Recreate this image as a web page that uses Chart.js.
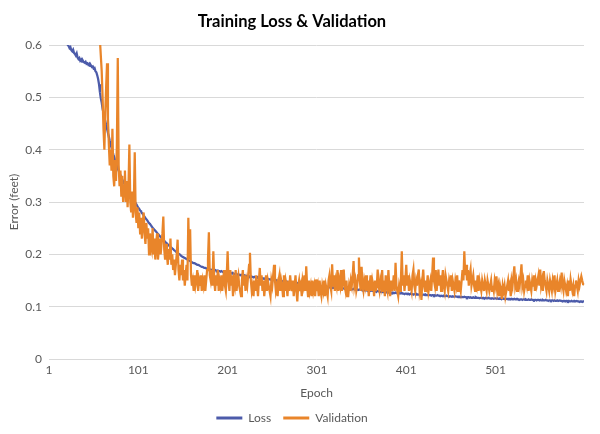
<!DOCTYPE html>
<html>
<head>
<meta charset="utf-8">
<script src="https://cdn.jsdelivr.net/npm/chart.js@4.4.0/dist/chart.umd.min.js"></script>
<style>
  body { margin: 0; background: #fff; }
</style>
</head>
<body>
<canvas id="bieu-do" width="600" height="434"></canvas>
<script>
// gia tri doc tu hinh, moi dong 10 epoch
var lossValues = [
	0.95, 0.93, 0.91, 0.89, 0.87, 0.85, 0.83, 0.81, 0.79, 0.77,
	0.75, 0.73, 0.715, 0.70, 0.685, 0.67, 0.655, 0.64, 0.628, 0.617,
	0.607, 0.600, 0.598, 0.594, 0.596, 0.590, 0.588, 0.591, 0.585, 0.583,
	0.580, 0.584, 0.576, 0.573, 0.575, 0.570, 0.572, 0.568, 0.570, 0.567,
	0.566, 0.568, 0.564, 0.565, 0.562, 0.564, 0.560, 0.561, 0.558, 0.559,
	0.555, 0.556, 0.550, 0.548, 0.542, 0.535, 0.525, 0.510, 0.498, 0.490,
	0.478, 0.470, 0.462, 0.455, 0.447, 0.440, 0.432, 0.425, 0.417, 0.410,
	0.404, 0.398, 0.391, 0.386, 0.380, 0.374, 0.369, 0.364, 0.360, 0.355,
	0.351, 0.347, 0.343, 0.339, 0.336, 0.333, 0.330, 0.327, 0.325, 0.322,
	0.319, 0.316, 0.313, 0.310, 0.307, 0.304, 0.301, 0.298, 0.295, 0.292,
	0.289, 0.287, 0.284, 0.282, 0.279, 0.277, 0.274, 0.272, 0.269, 0.267,
	0.265, 0.262, 0.260, 0.258, 0.256, 0.253, 0.251, 0.249, 0.247, 0.245,
	0.243, 0.241, 0.239, 0.237, 0.235, 0.233, 0.231, 0.229, 0.228, 0.226,
	0.224, 0.222, 0.221, 0.219, 0.217, 0.216, 0.214, 0.213, 0.211, 0.210,
	0.208, 0.207, 0.205, 0.204, 0.203, 0.201, 0.200, 0.199, 0.197, 0.196,
	0.195, 0.194, 0.193, 0.192, 0.191, 0.190, 0.189, 0.188, 0.187, 0.186,
	0.185, 0.184, 0.183, 0.183, 0.182, 0.181, 0.180, 0.180, 0.179, 0.178,
	0.177, 0.176, 0.176, 0.175, 0.174, 0.174, 0.173, 0.173, 0.172, 0.172,
	0.171, 0.171, 0.170, 0.171, 0.170, 0.169, 0.170, 0.169, 0.168, 0.169,
	0.168, 0.168, 0.167, 0.168, 0.167, 0.166, 0.167, 0.166, 0.165, 0.166,
	0.165, 0.165, 0.164, 0.165, 0.164, 0.163, 0.164, 0.163, 0.162, 0.163,
	0.162, 0.161, 0.162, 0.161, 0.160, 0.161, 0.160, 0.160, 0.159, 0.160,
	0.159, 0.159, 0.158, 0.159, 0.158, 0.157, 0.158, 0.157, 0.157, 0.156,
	0.157, 0.156, 0.156, 0.155, 0.156, 0.155, 0.155, 0.154, 0.155, 0.154,
	0.154, 0.153, 0.154, 0.153, 0.153, 0.152, 0.153, 0.152, 0.152, 0.151,
	0.152, 0.151, 0.151, 0.150, 0.151, 0.150, 0.150, 0.149, 0.150, 0.149,
	0.149, 0.148, 0.149, 0.148, 0.148, 0.147, 0.148, 0.147, 0.147, 0.146,
	0.147, 0.146, 0.146, 0.145, 0.146, 0.145, 0.145, 0.144, 0.145, 0.144,
	0.144, 0.143, 0.144, 0.143, 0.143, 0.142, 0.143, 0.142, 0.142, 0.141,
	0.142, 0.141, 0.141, 0.140, 0.141, 0.140, 0.140, 0.139, 0.140, 0.139,
	0.139, 0.140, 0.139, 0.139, 0.138, 0.139, 0.138, 0.138, 0.139, 0.138,
	0.138, 0.137, 0.138, 0.137, 0.137, 0.138, 0.137, 0.136, 0.137, 0.136,
	0.136, 0.137, 0.136, 0.136, 0.135, 0.136, 0.135, 0.135, 0.136, 0.135,
	0.135, 0.134, 0.135, 0.134, 0.134, 0.135, 0.134, 0.133, 0.134, 0.133,
	0.133, 0.134, 0.133, 0.133, 0.132, 0.133, 0.132, 0.132, 0.133, 0.132,
	0.132, 0.131, 0.132, 0.131, 0.131, 0.132, 0.131, 0.130, 0.131, 0.130,
	0.130, 0.131, 0.130, 0.130, 0.129, 0.130, 0.129, 0.129, 0.130, 0.129,
	0.129, 0.128, 0.129, 0.128, 0.128, 0.129, 0.128, 0.127, 0.128, 0.127,
	0.127, 0.128, 0.127, 0.127, 0.126, 0.127, 0.126, 0.126, 0.127, 0.126,
	0.126, 0.125, 0.126, 0.125, 0.125, 0.126, 0.125, 0.125, 0.124, 0.125,
	0.125, 0.124, 0.125, 0.124, 0.124, 0.125, 0.124, 0.124, 0.123, 0.124,
	0.124, 0.123, 0.124, 0.123, 0.123, 0.124, 0.123, 0.123, 0.122, 0.123,
	0.123, 0.122, 0.123, 0.122, 0.122, 0.123, 0.122, 0.122, 0.121, 0.122,
	0.122, 0.121, 0.122, 0.121, 0.121, 0.122, 0.121, 0.121, 0.120, 0.121,
	0.121, 0.120, 0.121, 0.120, 0.120, 0.121, 0.120, 0.120, 0.119, 0.120,
	0.120, 0.119, 0.120, 0.119, 0.119, 0.120, 0.119, 0.119, 0.118, 0.119,
	0.119, 0.118, 0.119, 0.118, 0.118, 0.119, 0.118, 0.118, 0.117, 0.118,
	0.118, 0.117, 0.118, 0.117, 0.117, 0.118, 0.117, 0.117, 0.118, 0.117,
	0.117, 0.117, 0.116, 0.117, 0.117, 0.116, 0.117, 0.116, 0.116, 0.117,
	0.116, 0.116, 0.117, 0.116, 0.116, 0.115, 0.116, 0.116, 0.115, 0.116,
	0.116, 0.115, 0.116, 0.115, 0.115, 0.116, 0.115, 0.115, 0.116, 0.115,
	0.115, 0.114, 0.115, 0.115, 0.114, 0.115, 0.115, 0.114, 0.115, 0.114,
	0.114, 0.115, 0.114, 0.114, 0.115, 0.114, 0.114, 0.113, 0.114, 0.114,
	0.113, 0.114, 0.114, 0.113, 0.114, 0.113, 0.113, 0.114, 0.113, 0.113,
	0.114, 0.113, 0.113, 0.112, 0.113, 0.113, 0.112, 0.113, 0.113, 0.112,
	0.113, 0.112, 0.112, 0.113, 0.112, 0.112, 0.113, 0.112, 0.112, 0.111,
	0.112, 0.112, 0.111, 0.112, 0.112, 0.111, 0.112, 0.111, 0.111, 0.112,
	0.111, 0.111, 0.112, 0.111, 0.111, 0.110, 0.111, 0.111, 0.110, 0.111,
	0.111, 0.110, 0.111, 0.110, 0.110, 0.111, 0.110, 0.110, 0.111, 0.110,
	0.110, 0.111, 0.110, 0.110, 0.109, 0.110, 0.110, 0.109, 0.110, 0.110
];

var validationValues = [
	1.02, 0.98, 0.96, 0.95, 0.93, 0.92, 0.90, 0.91, 0.89, 0.88,
	0.87, 0.86, 0.86, 0.85, 0.84, 0.83, 0.83, 0.82, 0.81, 0.80,
	0.80, 0.79, 0.78, 0.78, 0.77, 0.76, 0.76, 0.75, 0.74, 0.74,
	0.73, 0.72, 0.72, 0.71, 0.71, 0.70, 0.70, 0.69, 0.69, 0.68,
	0.68, 0.67, 0.67, 0.66, 0.66, 0.65, 0.65, 0.64, 0.64, 0.63,
	0.63, 0.62, 0.62, 0.61, 0.61, 0.62, 0.64, 0.61, 0.58, 0.55,
	0.50, 0.44, 0.40, 0.47, 0.52, 0.565, 0.46, 0.41, 0.37, 0.40,
	0.36, 0.44, 0.35, 0.33, 0.38, 0.34, 0.41, 0.575, 0.37, 0.33,
	0.36, 0.31, 0.35, 0.30, 0.33, 0.36, 0.30, 0.34, 0.29, 0.33,
	0.41, 0.30, 0.28, 0.32, 0.27, 0.30, 0.395, 0.28, 0.26, 0.29,
	0.25, 0.28, 0.24, 0.27, 0.23, 0.26, 0.28, 0.24, 0.22, 0.26,
	0.23, 0.25, 0.20, 0.24, 0.22, 0.21, 0.25, 0.20, 0.23, 0.19,
	0.22, 0.24, 0.19, 0.21, 0.23, 0.20, 0.22, 0.24, 0.272, 0.21,
	0.19, 0.22, 0.20, 0.18, 0.21, 0.19, 0.23, 0.18, 0.20, 0.17,
	0.19, 0.16, 0.18, 0.20, 0.228, 0.17, 0.15, 0.18, 0.16, 0.19,
	0.15, 0.17, 0.14, 0.16, 0.18, 0.15, 0.27, 0.19, 0.248, 0.16,
	0.14, 0.15, 0.13, 0.16, 0.14, 0.15, 0.17, 0.13, 0.15, 0.14,
	0.16, 0.13, 0.15, 0.14, 0.16, 0.13, 0.15, 0.17, 0.19, 0.242,
	0.16, 0.15, 0.17, 0.14, 0.206, 0.15, 0.13, 0.16, 0.14, 0.17,
	0.13, 0.15, 0.14, 0.16, 0.13, 0.15, 0.17, 0.14, 0.13, 0.16,
	0.206, 0.15, 0.13, 0.17, 0.14, 0.16, 0.12, 0.15, 0.14, 0.17,
	0.13, 0.15, 0.16, 0.14, 0.13, 0.12, 0.15, 0.17, 0.14, 0.16,
	0.13, 0.15, 0.14, 0.16, 0.18, 0.203, 0.15, 0.13, 0.14, 0.12,
	0.15, 0.13, 0.16, 0.14, 0.12, 0.15, 0.174, 0.14, 0.16, 0.13,
	0.15, 0.12, 0.14, 0.16, 0.13, 0.15, 0.14, 0.13, 0.12, 0.15,
	0.14, 0.16, 0.18, 0.15, 0.13, 0.14, 0.12, 0.15, 0.16, 0.13,
	0.15, 0.14, 0.12, 0.16, 0.13, 0.15, 0.14, 0.12, 0.15, 0.13,
	0.16, 0.14, 0.13, 0.15, 0.12, 0.14, 0.16, 0.13, 0.11, 0.14,
	0.15, 0.13, 0.14, 0.12, 0.15, 0.14, 0.16, 0.13, 0.177, 0.14,
	0.12, 0.15, 0.13, 0.14, 0.12, 0.15, 0.13, 0.14, 0.12, 0.152,
	0.13, 0.14, 0.12, 0.15, 0.13, 0.12, 0.14, 0.13, 0.15, 0.12,
	0.14, 0.13, 0.12, 0.15, 0.16, 0.14, 0.13, 0.181, 0.14, 0.16,
	0.13, 0.15, 0.14, 0.17, 0.13, 0.15, 0.14, 0.17, 0.13, 0.15,
	0.171, 0.14, 0.13, 0.15, 0.12, 0.12, 0.14, 0.13, 0.15, 0.14,
	0.16, 0.187, 0.14, 0.15, 0.13, 0.14, 0.16, 0.194, 0.15, 0.13,
	0.176, 0.14, 0.13, 0.15, 0.14, 0.16, 0.13, 0.15, 0.12, 0.14,
	0.16, 0.13, 0.15, 0.14, 0.12, 0.15, 0.13, 0.14, 0.171, 0.14,
	0.13, 0.15, 0.14, 0.17, 0.13, 0.15, 0.12, 0.16, 0.14, 0.13,
	0.17, 0.14, 0.12, 0.15, 0.13, 0.14, 0.16, 0.13, 0.184, 0.14,
	0.13, 0.12, 0.14, 0.13, 0.15, 0.206, 0.14, 0.16, 0.13, 0.15,
	0.18, 0.14, 0.16, 0.13, 0.15, 0.14, 0.13, 0.16, 0.171, 0.14,
	0.13, 0.15, 0.14, 0.16, 0.171, 0.13, 0.14, 0.113, 0.15, 0.171,
	0.14, 0.13, 0.15, 0.14, 0.16, 0.13, 0.14, 0.15, 0.13, 0.16,
	0.194, 0.15, 0.14, 0.17, 0.13, 0.15, 0.171, 0.14, 0.16, 0.13,
	0.15, 0.17, 0.14, 0.13, 0.16, 0.15, 0.14, 0.13, 0.15, 0.14,
	0.16, 0.13, 0.15, 0.14, 0.13, 0.15, 0.14, 0.16, 0.13, 0.15,
	0.14, 0.13, 0.15, 0.17, 0.15, 0.206, 0.16, 0.18, 0.15, 0.17,
	0.14, 0.16, 0.171, 0.14, 0.15, 0.16, 0.14, 0.13, 0.15, 0.14,
	0.16, 0.13, 0.15, 0.14, 0.13, 0.15, 0.14, 0.13, 0.15, 0.14,
	0.13, 0.15, 0.14, 0.13, 0.14, 0.15, 0.13, 0.14, 0.13, 0.15,
	0.14, 0.158, 0.13, 0.14, 0.12, 0.14, 0.13, 0.115, 0.14, 0.13,
	0.14, 0.12, 0.13, 0.14, 0.15, 0.13, 0.14, 0.12, 0.15, 0.14,
	0.16, 0.177, 0.14, 0.15, 0.13, 0.14, 0.15, 0.14, 0.16, 0.181,
	0.14, 0.15, 0.13, 0.14, 0.15, 0.14, 0.16, 0.13, 0.15, 0.14,
	0.13, 0.15, 0.14, 0.16, 0.13, 0.15, 0.14, 0.15, 0.16, 0.14,
	0.171, 0.14, 0.15, 0.13, 0.168, 0.15, 0.14, 0.13, 0.15, 0.14,
	0.13, 0.15, 0.14, 0.13, 0.15, 0.14, 0.16, 0.13, 0.14, 0.15,
	0.13, 0.14, 0.15, 0.14, 0.165, 0.14, 0.13, 0.15, 0.14, 0.13,
	0.14, 0.12, 0.15, 0.13, 0.152, 0.14, 0.13, 0.14, 0.12, 0.14,
	0.15, 0.14, 0.13, 0.15, 0.14, 0.15, 0.158, 0.15, 0.143, 0.142
];

// nhan epoch 1..600, chi hien 1, 101, 201 ...
var epochLabels = lossValues.map((v, i) => String(i + 1));
var tickEvery = 100;

var mauLoss = '#4C5BAA';
var mauValidation = '#E9852A';
var mauChu = '#595959';
var mauLuoi = '#D9D9D9';
var phongChu = 'Lato';

var canvas = document.getElementById('bieu-do');

var config = {
	type: 'line',
	data: {
		labels: epochLabels,
		datasets: [
			{
				label: 'Loss',
				data: lossValues,
				borderColor: mauLoss,
				backgroundColor: mauLoss,
				borderWidth: 2.25,
				pointRadius: 0,
				tension: 0,
				order: 1
			},
			{
				label: 'Validation',
				data: validationValues,
				borderColor: mauValidation,
				backgroundColor: mauValidation,
				borderWidth: 2.25,
				pointRadius: 0,
				tension: 0,
				order: 0
			}
		]
	},
	options: {
		responsive: false,
		animation: false,
		layout: {
			padding: { left: 0, right: 16, top: 0, bottom: 0 }
		},
		plugins: {
			title: {
				display: true,
				text: 'Training Loss & Validation',
				color: '#000',
				font: { family: phongChu, size: 16.5, weight: 'bold' },
				padding: { top: 12, bottom: 13.2 }
			},
			legend: {
				position: 'bottom',
				labels: {
					color: mauChu,
					font: { family: phongChu, size: 12 },
					boxWidth: 26,
					boxHeight: 3,
					padding: 12,
					sort: (a, b) => a.datasetIndex - b.datasetIndex,
					generateLabels: (chart) => {
						var items = Chart.defaults.plugins.legend.labels.generateLabels(chart);
						items.forEach(item => { item.lineWidth = 0; });
						return items;
					}
				}
			},
			tooltip: { enabled: false }
		},
		scales: {
			x: {
				type: 'category',
				offset: false,
				grid: { display: false, drawTicks: false },
				border: { display: false },
				ticks: {
					autoSkip: false,
					maxRotation: 0,
					minRotation: 0,
					padding: 4,
					color: mauChu,
					font: { family: phongChu, size: 12 },
					callback: function (val, index) {
						return index % tickEvery == 0 ? this.getLabelForValue(val) : null;
					}
				},
				title: {
					display: true,
					text: 'Epoch',
					color: mauChu,
					font: { family: phongChu, size: 12 },
					padding: { top: 0, bottom: 0 }
				},
				afterFit: (scale) => { scale.height = 41; }
			},
			y: {
				min: 0,
				max: 0.6,
				grid: { color: mauLuoi, lineWidth: 1, drawTicks: false },
				border: { display: false },
				ticks: {
					stepSize: 0.1,
					padding: 7,
					color: mauChu,
					font: { family: phongChu, size: 12 }
				},
				title: {
					display: true,
					text: 'Error (feet)',
					color: mauChu,
					font: { family: phongChu, size: 12 },
					padding: { top: 7, bottom: 0 }
				},
				afterFit: (scale) => { scale.width = 49; }
			}
		}
	}
};

new Chart(canvas.getContext('2d'), config);
</script>
</body>
</html>
